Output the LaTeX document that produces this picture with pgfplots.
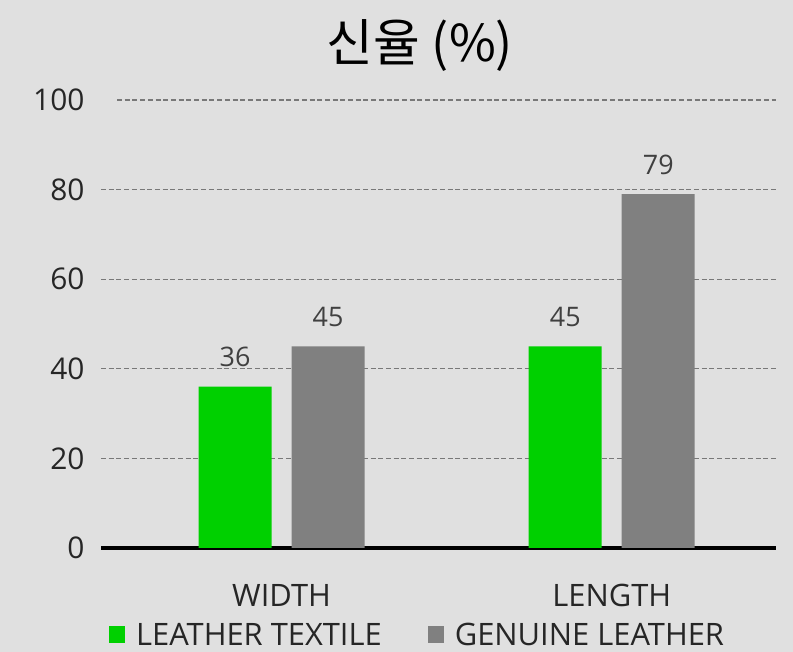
\documentclass[border=0pt]{standalone}
\usepackage{pgfplots}
\pgfplotsset{compat=1.18}
\usepackage{fontspec}
\setmainfont{Open Sans}
\newfontfamily\krfont{Noto Sans CJK KR}
\definecolor{bg}{RGB}{224,224,224}
\definecolor{greenbar}{RGB}{0,208,0}
\definecolor{graybar}{RGB}{128,128,128}
\definecolor{txt}{RGB}{38,38,38}
\definecolor{lbl}{RGB}{64,64,64}
\definecolor{gridc}{RGB}{120,120,120}
\begin{document}
\begin{tikzpicture}
\fill[bg] (0,0) rectangle (793bp,652bp);
\begin{axis}[
  at={(101bp,104bp)}, anchor=south west,
  scale only axis, width=675bp, height=448bp,
  ymin=0, ymax=100, ytick={20,40,...,100},
  extra y ticks={0}, extra y tick labels={0},
  extra y tick style={grid style={solid, black, line width=3.5bp, shorten <=0bp}},
  xmin=-0.5466, xmax=1.4974,
  xtick={0,1}, xticklabels={WIDTH,LENGTH},
  ybar=20bp, bar width=73bp,
  axis line style={draw=none},
  major tick length=0,
  ymajorgrids, grid style={gridc, line width=1.1bp, dash pattern=on 5bp off 2.7bp, shorten <=16bp},
  /pgf/number format/assume math mode=true,
  yticklabel style={font=\fontsize{30}{34}\selectfont, color=txt, xshift=-13bp},
  xticklabel style={font=\fontsize{31}{35}\selectfont, color=txt, yshift=-33bp},
  nodes near coords,
  nodes near coords style={font=\fontsize{27}{31}\selectfont, color=lbl, yshift=16bp},
  title={\krfont 신율 (\%)},
  title style={at={(0.4726,1)}, anchor=center, yshift=49bp, font=\fontsize{51}{58}\selectfont, color=black},
  legend style={at={(0.469,-0.1935)}, anchor=center, legend columns=2, draw=none, fill=none,
    font=\fontsize{31}{35}\selectfont, text=txt,
    /tikz/every odd column/.append style={column sep=9bp},
    /tikz/every even column/.append style={column sep=44bp}},
  legend image code/.code={\fill[#1,draw=none] (0bp,-8.5bp) rectangle (16bp,8.5bp);},
]
\addplot[fill=greenbar, draw=none] coordinates {(0,36) (1,45)};
\addplot[fill=graybar, draw=none] coordinates {(0,45) (1,79)};
\legend{LEATHER TEXTILE, GENUINE LEATHER}
\end{axis}
\pgfresetboundingbox
\path (0,0) rectangle (793bp,652bp);
\end{tikzpicture}
\end{document}
